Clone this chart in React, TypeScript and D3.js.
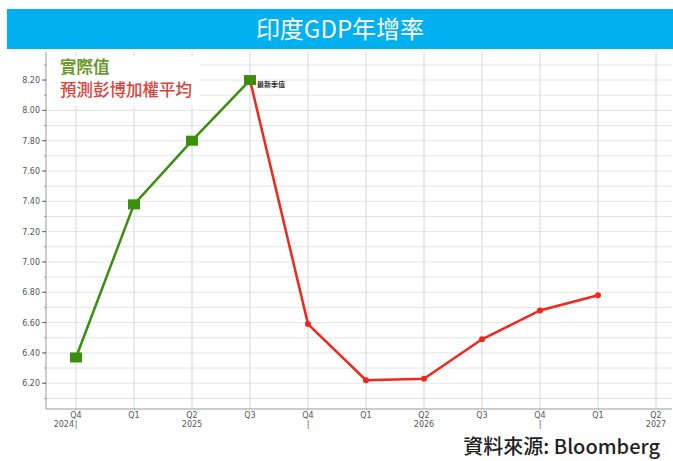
import React from "react";
import * as d3 from "d3";

const quarters = ["Q4", "Q1", "Q2", "Q3", "Q4", "Q1", "Q2", "Q3", "Q4", "Q1", "Q2"];
const yearLabels = ["", "", "2025", "", "|", "", "2026", "", "|", "", "2027"];
const actualIdx = [0, 1, 2, 3];
const actualValues = [6.37, 7.38, 7.8, 8.2];
const forecastIdx = [3, 4, 5, 6, 7, 8, 9];
const forecastValues = [8.2, 6.59, 6.22, 6.23, 6.49, 6.68, 6.78];
const yTicks = [6.2, 6.4, 6.6, 6.8, 7.0, 7.2, 7.4, 7.6, 7.8, 8.0, 8.2];
const yMinor = [6.1, 6.2, 6.3, 6.4, 6.5, 6.6, 6.7, 6.8, 6.9, 7.0, 7.1, 7.2, 7.3, 7.4, 7.5, 7.6, 7.7, 7.8, 7.9, 8.0, 8.1, 8.2, 8.3];

const W = 673;
const H = 461;
const left = 46;
const top = 52;
const bottom = 409;
const right = 672;

export default function App() {
  const x = d3.scaleLinear().domain([0, 10]).range([76, 656]);
  const y = d3.scaleLinear().domain([6.03, 8.385]).range([bottom, top]);
  const actual = actualIdx.map((i, k) => [i, actualValues[k]] as [number, number]);
  const forecast = forecastIdx.map((i, k) => [i, forecastValues[k]] as [number, number]);
  const line = d3
    .line<[number, number]>()
    .x((d) => x(d[0]))
    .y((d) => y(d[1]));
  const tickFont = "'DejaVu Sans', sans-serif";
  const cjk = "'Noto Sans CJK TC', sans-serif";
  return (
    <svg width={W} height={H} style={{ position: "absolute", left: 0, top: 0, background: "#fff" }}>
      <rect x={7} y={9} width={666} height={40} fill="#00b0f0" />
      <text x={340} y={38} textAnchor="middle" fill="#fff" fontSize={24} fontFamily={cjk}>
        印度GDP年增率
      </text>
      {yMinor.map((v, i) => (
        <line key={"hg" + i} x1={left} x2={right} y1={y(v)} y2={y(v)} stroke="#e4e4e4" strokeWidth={1} />
      ))}
      {quarters.map((q, i) => (
        <line key={"vg" + i} x1={x(i)} x2={x(i)} y1={top} y2={bottom} stroke="#d6d6d6" strokeWidth={1} />
      ))}
      <rect x={47} y={56} width={153} height={50} fill="#fff" />
      <line x1={left} x2={left} y1={top} y2={bottom} stroke="#999" strokeWidth={1} />
      <line x1={left} x2={right} y1={bottom} y2={bottom} stroke="#999" strokeWidth={1} />
      {yMinor.map((v, i) => (
        <line key={"mt" + i} x1={left - 2} x2={left} y1={y(v)} y2={y(v)} stroke="#999" />
      ))}
      {yTicks.map((v, i) => (
        <g key={"yt" + i}>
          <line x1={left - 4} x2={left} y1={y(v)} y2={y(v)} stroke="#666" />
          <text x={left - 6} y={y(v) + 3} textAnchor="end" fontSize={8} fill="#555" fontFamily={tickFont}>
            {v.toFixed(2)}
          </text>
        </g>
      ))}
      {quarters.map((q, i) => (
        <g key={"xt" + i}>
          <text x={x(i)} y={418} textAnchor="middle" fontSize={8} fill="#555" fontFamily={tickFont}>
            {q}
          </text>
          {yearLabels[i] && (
            <text x={x(i)} y={427} textAnchor="middle" fontSize={8} fill="#555" fontFamily={tickFont}>
              {yearLabels[i]}
            </text>
          )}
        </g>
      ))}
      <text x={x(0) - 2} y={427} textAnchor="end" fontSize={8} fill="#555" fontFamily={tickFont}>
        2024
      </text>
      <text x={x(0)} y={427} textAnchor="middle" fontSize={8} fill="#555" fontFamily={tickFont}>
        |
      </text>
      <path d={line(actual) || ""} fill="none" stroke="#3b8e0e" strokeWidth={2.5} />
      <path d={line(forecast) || ""} fill="none" stroke="#f2261a" strokeWidth={2.5} />
      {forecast.slice(1).map((d, i) => (
        <circle key={"fc" + i} cx={x(d[0])} cy={y(d[1])} r={3} fill="#f2261a" />
      ))}
      {actual.map((d, i) => (
        <rect key={"ac" + i} x={x(d[0]) - 6} y={y(d[1]) - 5} width={12} height={10} fill="#3b8e0e" />
      ))}
      <text x={x(3) + 7} y={y(8.2) + 7} fontSize={7} fill="#333" fontFamily={cjk} fontWeight="bold">
        最新季值
      </text>
      <text x={60} y={73} fontSize={16.5} fill="#6a9a2a" fontFamily={cjk} fontWeight="bold">
        實際值
      </text>
      <text x={60} y={96} fontSize={16.5} fill="#d9433a" fontFamily={cjk} fontWeight={500}>
        預測彭博加權平均
      </text>
      <text x={660} y={454} textAnchor="end" fontSize={20} fill="#222" fontFamily={cjk} fontWeight={500}>
        資料來源: Bloomberg
      </text>
    </svg>
  );
}
